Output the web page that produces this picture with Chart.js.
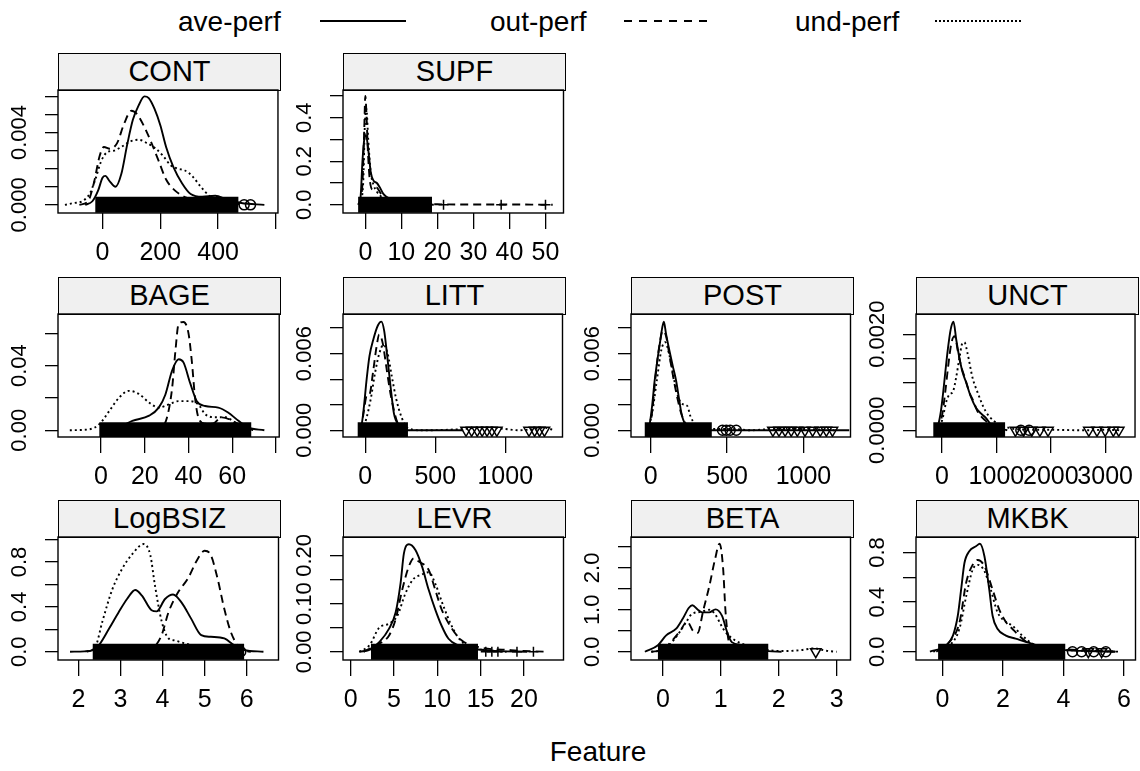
<!DOCTYPE html>
<html lang="en">
<head>
<meta charset="UTF-8">
<title>Feature densities by performance group</title>
<script src="https://cdn.jsdelivr.net/npm/chart.js@4.4.1/dist/chart.umd.min.js"></script>
<style>
  body { margin: 0; background: #fff; font-family: "Liberation Sans", Arial, sans-serif; color: #000; }
  #page { position: relative; width: 1140px; height: 771px; overflow: hidden; background: #fff; }
  .strip { position: absolute; box-sizing: border-box; border: 1px solid #000; background: #f0f0f0;
           text-align: center; font-size: 29px; line-height: 35px; }
  .panel { position: absolute; }
  .lgText { position: absolute; font-size: 28px; line-height: 30px; white-space: nowrap; }
  .lgLine { position: absolute; height: 2px; }
  #xtitle { position: absolute; left: 0; width: 1196px; top: 736px; text-align: center; font-size: 28px; }
</style>
</head>
<body>
<div id="page">
  <div class="lgText" style="left:178px; top:7px;">ave-perf</div>
  <div class="lgLine" style="left:320px; top:20px; width:86px; background:#000;"></div>
  <div class="lgText" style="left:490px; top:7px;">out-perf</div>
  <div class="lgLine" style="left:624px; top:20px; width:86px; background:repeating-linear-gradient(90deg,#000 0 8px,transparent 8px 15px);"></div>
  <div class="lgText" style="left:795px; top:7px;">und-perf</div>
  <div class="lgLine" style="left:935px; top:20px; width:88px; background:repeating-linear-gradient(90deg,#000 0 2px,transparent 2px 4px);"></div>
  <div id="xtitle">Feature</div>
</div>

<script>
// ---- density curves: [x, density] ----
const CONT_ave = [[-60,0],[-35,0.0002],[-15,0.0008],[0,0.0015],[10,0.0016],[25,0.0013],[45,0.0010],[65,0.0017],[85,0.0033],[105,0.0047],[125,0.0055],[145,0.0060],[160,0.0059],[180,0.0053],[200,0.0044],[220,0.0032],[245,0.0021],[275,0.0012],[305,0.0006],[345,0.00045],[390,0.0005],[430,0.0003],[480,0.0001],[560,0]];
const CONT_out = [[-80,0],[-50,0.0002],[-30,0.0012],[-10,0.0027],[5,0.0032],[25,0.0031],[50,0.0034],[75,0.0045],[100,0.0052],[120,0.0050],[145,0.0043],[170,0.0034],[195,0.0024],[220,0.0014],[250,0.0008],[290,0.0004],[340,0.0002],[380,0.0001],[420,0]];
const CONT_und = [[-130,0],[-100,0.0001],[-70,0.0002],[-45,0.0006],[-25,0.0014],[-5,0.0024],[15,0.0029],[40,0.0030],[65,0.0032],[95,0.0035],[125,0.0036],[155,0.0034],[185,0.0031],[210,0.0027],[235,0.0022],[260,0.0020],[285,0.0019],[310,0.0016],[340,0.0010],[370,0.0005],[400,0.0003],[440,0.0002],[480,0]];

const SUPF_ave = [[-2,0],[-1.3,0.04],[-0.8,0.2],[-0.3,0.3],[0.2,0.32],[0.7,0.27],[1.5,0.15],[2.3,0.11],[3.2,0.10],[4,0.08],[5,0.05],[6,0.035],[8,0.015],[10,0.008],[14,0.004],[19,0]];
const SUPF_out = [[-1.5,0],[-0.8,0.1],[-0.3,0.35],[0,0.5],[0.3,0.42],[0.7,0.25],[1.2,0.12],[2,0.07],[3,0.08],[4,0.06],[5,0.03],[7,0.01],[10,0.005],[20,0.002],[30,0.001],[40,0.001],[52,0]];
const SUPF_und = [[-1.5,0],[-0.6,0.1],[-0.1,0.38],[0.3,0.44],[0.8,0.3],[1.5,0.15],[2.3,0.09],[3.2,0.06],[5,0.03],[8,0.01],[12,0.004],[18,0]];

const BAGE_ave = [[0,0],[5,0.001],[10,0.003],[14.3,0.0058],[22,0.009],[26.4,0.014],[29.4,0.022],[32.5,0.037],[35.5,0.044],[37.7,0.042],[40.8,0.029],[43.8,0.018],[47.6,0.015],[53.6,0.014],[58.1,0.011],[62.7,0.006],[67.2,0.0017],[74.7,0]];
const BAGE_out = [[24,0],[28,0.002],[30.2,0.008],[32.5,0.026],[34,0.049],[35.5,0.066],[37.7,0.067],[40,0.06],[41.5,0.043],[43,0.02],[44.5,0.008],[47.5,0.004],[51,0.004],[55,0.008],[60,0.006],[65,0.002],[70,0]];
const BAGE_und = [[-14.3,0],[-5.3,0.0006],[-0.8,0.0037],[3.8,0.012],[8.3,0.0203],[12.8,0.0244],[17.4,0.0224],[21.9,0.0172],[26.4,0.014],[31,0.016],[35.5,0.018],[40,0.018],[44.5,0.016],[47.6,0.01],[52,0.008],[57,0.008],[62,0.004],[68,0]];

const LITT_ave = [[-45,0],[-25,0.0005],[-10,0.0018],[10,0.004],[30,0.0058],[60,0.0072],[90,0.0082],[115,0.0085],[135,0.0078],[155,0.006],[180,0.0035],[205,0.0013],[240,0.0004],[300,0],[700,0]];
const LITT_out = [[-30,0],[-10,0.0015],[10,0.0027],[30,0.0028],[55,0.0045],[80,0.0065],[100,0.0075],[125,0.0068],[150,0.005],[175,0.0032],[200,0.0018],[230,0.0006],[280,0]];
const LITT_und = [[-20,0],[10,0.001],[40,0.0025],[70,0.0045],[100,0.006],[130,0.0067],[160,0.006],[190,0.0042],[220,0.0025],[260,0.001],[300,0.0002],[400,0],[700,0.0001],[800,0.0002],[900,0.0002],[1000,0.0001],[1100,0],[1200,0.0001],[1280,0.0002],[1350,0]];

const POST_ave = [[-15,0],[-5,0.0006],[10,0.002],[26,0.0039],[45,0.0056],[60,0.0068],[75,0.008],[86,0.0085],[101,0.0075],[123,0.0062],[145,0.005],[166,0.0039],[185,0.0025],[200,0.0014],[220,0.0006],[250,0.0003],[300,0.0001],[400,0],[1300,0]];
const POST_out = [[-10,0],[10,0.0015],[30,0.004],[55,0.0065],[80,0.0078],[100,0.0074],[125,0.0057],[150,0.004],[175,0.0025],[200,0.0013],[225,0.0006],[260,0.0002],[330,0]];
const POST_und = [[-20,0],[10,0.0014],[40,0.0039],[70,0.0063],[95,0.0069],[120,0.006],[145,0.0045],[170,0.003],[195,0.0022],[220,0.002],[240,0.0019],[260,0.0011],[290,0.0005],[340,0.0002],[450,0.0001],[550,0.0001],[650,0],[800,0.0001],[1000,0.0001],[1200,0]];

const UNCT_ave = [[-120,0],[-73,0.0001],[-20,0.0004],[18,0.00075],[60,0.0012],[109,0.0017],[160,0.0021],[212,0.00226],[260,0.0019],[321,0.0015],[380,0.0012],[442,0.001],[530,0.0007],[624,0.00047],[715,0.00035],[806,0.00026],[900,0.00012],[988,0.00006],[1100,0]];
const UNCT_out = [[-100,0],[0,0.0003],[60,0.0008],[110,0.0013],[170,0.0018],[230,0.00196],[300,0.0016],[360,0.0013],[420,0.0011],[500,0.0008],[580,0.0006],[650,0.0004],[800,0.0002],[1000,0.00005],[1200,0]];
const UNCT_und = [[-100,0],[0,0.0002],[80,0.0006],[140,0.00075],[200,0.0008],[260,0.0011],[320,0.0015],[370,0.0018],[412,0.00183],[470,0.0016],[560,0.0011],[650,0.0008],[800,0.0004],[950,0.0002],[1100,0.0001],[1400,0.00002],[2000,0.00001],[2600,0],[3000,0.00001],[3300,0]];

const LBSZ_ave = [[1.8,0],[2.14,0.003],[2.34,0.015],[2.49,0.059],[2.73,0.206],[2.96,0.354],[3.16,0.472],[3.35,0.55],[3.51,0.50],[3.74,0.37],[3.86,0.36],[4.06,0.47],[4.25,0.51],[4.45,0.44],[4.68,0.295],[4.92,0.148],[5.15,0.133],[5.47,0.118],[5.70,0.059],[5.94,0.015],[6.4,0]];
const LBSZ_out = [[3.6,0],[3.8,0.04],[3.98,0.15],[4.14,0.35],[4.37,0.53],[4.6,0.65],[4.84,0.83],[5.0,0.90],[5.15,0.86],[5.31,0.65],[5.47,0.38],[5.62,0.18],[5.78,0.06],[5.94,0.01],[6.1,0]];
const LBSZ_und = [[2.2,0],[2.41,0.05],[2.57,0.27],[2.81,0.56],[3.04,0.74],[3.28,0.87],[3.55,0.96],[3.71,0.86],[3.82,0.59],[3.98,0.27],[4.14,0.12],[4.29,0.10],[4.53,0.074],[4.84,0.05],[5.2,0.03],[5.5,0.01],[5.8,0]];

const LEVR_ave = [[1,0],[2.3,0.005],[3.3,0.02],[4.44,0.048],[5.2,0.082],[5.77,0.143],[6.15,0.204],[6.72,0.223],[7.48,0.211],[8.24,0.177],[9.0,0.129],[9.76,0.088],[10.5,0.054],[11.3,0.027],[12.4,0.0136],[13.9,0.0068],[16.6,0.002],[20.4,0]];
const LEVR_out = [[1.5,0],[2.9,0.0136],[4.44,0.034],[5.2,0.068],[5.96,0.129],[6.72,0.177],[7.29,0.194],[7.86,0.187],[9.0,0.17],[9.76,0.129],[10.5,0.088],[11.7,0.048],[12.8,0.024],[14.7,0.01],[18.5,0.0034],[22.7,0]];
const LEVR_und = [[1,0],[2.2,0.014],[3.3,0.05],[4.4,0.058],[5.4,0.075],[6.3,0.12],[7.2,0.15],[8.2,0.16],[9.0,0.165],[9.8,0.14],[10.6,0.1],[11.5,0.06],[12.4,0.03],[13.5,0.012],[15,0.005],[17,0.001],[18,0]];

const BETA_ave = [[-0.31,0],[-0.085,0.156],[0.057,0.39],[0.23,0.55],[0.34,0.78],[0.45,1.05],[0.51,1.11],[0.6,1.01],[0.68,0.94],[0.8,0.94],[0.91,1.01],[1.02,0.86],[1.11,0.47],[1.19,0.23],[1.36,0.16],[1.59,0.08],[1.82,0.016],[2.05,0]];
const BETA_out = [[-0.2,0],[0,0.05],[0.15,0.25],[0.3,0.5],[0.42,0.72],[0.52,0.5],[0.6,0.45],[0.7,1.0],[0.8,1.55],[0.9,2.2],[0.98,2.58],[1.04,2.0],[1.08,1.0],[1.13,0.3],[1.2,0.1],[1.4,0.05],[1.6,0.02],[1.8,0]];
const BETA_und = [[-0.2,0],[0,0.05],[0.2,0.3],[0.4,0.7],[0.5,0.9],[0.65,0.95],[0.8,1.0],[0.9,0.9],[1.0,0.65],[1.08,0.47],[1.25,0.27],[1.53,0.12],[1.82,0.04],[2.1,0.016],[2.39,0.04],[2.61,0.08],[2.84,0.02],[3.0,0]];

const MKBK_ave = [[-0.41,0],[0.13,0.053],[0.35,0.13],[0.51,0.29],[0.62,0.50],[0.73,0.715],[0.89,0.81],[1.11,0.85],[1.24,0.87],[1.39,0.77],[1.55,0.50],[1.66,0.29],[1.82,0.185],[2.1,0.13],[2.42,0.106],[2.75,0.08],[3.3,0.04],[4.06,0.013],[4.82,0.005],[5.7,0]];
const MKBK_out = [[-0.2,0],[0.24,0.08],[0.57,0.24],[0.79,0.56],[1.0,0.70],[1.17,0.74],[1.39,0.69],[1.66,0.5],[1.88,0.34],[2.1,0.24],[2.31,0.185],[2.53,0.13],[2.86,0.066],[3.5,0.03],[4.6,0.013],[5.8,0]];
const MKBK_und = [[-0.3,0],[0.24,0.05],[0.57,0.19],[0.79,0.45],[1.0,0.66],[1.17,0.70],[1.39,0.65],[1.6,0.5],[1.82,0.32],[2.1,0.24],[2.31,0.21],[2.64,0.13],[2.97,0.066],[3.5,0.026],[4.6,0.008],[5.9,0]];

// ---- extent of the dense rug of observations at the foot of each panel ----
const CONT_rug = [-25, 470];
const SUPF_rug = [-2, 18.5];
const BAGE_rug = [-0.8, 68.7];
const LITT_rug = [-54, 305];
const POST_rug = [-39, 400];
const UNCT_rug = [-160, 1160];
const LBSZ_rug = [2.34, 5.94];
const LEVR_rug = [2.35, 14.7];
const BETA_rug = [-0.085, 1.82];
const MKBK_rug = [-0.14, 4.06];

// ---- isolated observations drawn with the group symbol ----
const CONT_aveObs = [490, 512];
const SUPF_outObs = [21.7, 37.7, 50];
const LITT_undObs = [720, 760, 800, 835, 870, 905, 940, 1170, 1210, 1245, 1280];
const POST_aveObs = [470, 495, 520, 560];
const POST_undObs = [800, 840, 880, 920, 960, 1010, 1060, 1110, 1150, 1190];
const UNCT_aveObs = [1450, 1600];
const UNCT_undObs = [1350, 1500, 1650, 1800, 1950, 2700, 2850, 3000, 3150, 3250];
const LBSZ_aveObs = [5.86];
const LEVR_outObs = [15.6, 16.3, 17.0, 19.2, 21.1];
const BETA_undObs = [2.64];
const MKBK_aveObs = [4.3, 4.6, 5.0, 5.4];
const MKBK_undObs = [4.82, 5.26];

// ---- axis ticks and labels ----
const CONT_xTicks = [0, 200, 400, 600];      const CONT_xLab = ['0', '200', '400', ''];
const CONT_yTicks = [0, 0.001, 0.002, 0.003, 0.004, 0.005, 0.006];
const CONT_yLab = ['0.000', '', '', '', '0.004', '', ''];
const SUPF_xTicks = [0, 10, 20, 30, 40, 50];  const SUPF_xLab = ['0', '10', '20', '30', '40', '50'];
const SUPF_yTicks = [0, 0.1, 0.2, 0.3, 0.4, 0.5]; const SUPF_yLab = ['0.0', '', '0.2', '', '0.4', ''];
const BAGE_xTicks = [0, 20, 40, 60, 80];      const BAGE_xLab = ['0', '20', '40', '60', ''];
const BAGE_yTicks = [0, 0.02, 0.04, 0.06];    const BAGE_yLab = ['0.00', '', '0.04', ''];
const LITT_xTicks = [0, 500, 1000];           const LITT_xLab = ['0', '500', '1000'];
const LITT_yTicks = [0, 0.002, 0.004, 0.006, 0.008]; const LITT_yLab = ['0.000', '', '', '0.006', ''];
const POST_xTicks = [0, 500, 1000];           const POST_xLab = ['0', '500', '1000'];
const POST_yTicks = [0, 0.002, 0.004, 0.006, 0.008]; const POST_yLab = ['0.000', '', '', '0.006', ''];
const UNCT_xTicks = [0, 1000, 2000, 3000];    const UNCT_xLab = ['0', '1000', '2000', '3000'];
const UNCT_yTicks = [0, 0.0005, 0.001, 0.0015, 0.002]; const UNCT_yLab = ['0.0000', '', '', '', '0.0020'];
const LBSZ_xTicks = [2, 3, 4, 5, 6];          const LBSZ_xLab = ['2', '3', '4', '5', '6'];
const LBSZ_yTicks = [0, 0.2, 0.4, 0.6, 0.8, 1.0]; const LBSZ_yLab = ['0.0', '', '0.4', '', '0.8', ''];
const LEVR_xTicks = [0, 5, 10, 15, 20];       const LEVR_xLab = ['0', '5', '10', '15', '20'];
const LEVR_yTicks = [0, 0.05, 0.10, 0.15, 0.20]; const LEVR_yLab = ['0.00', '', '0.10', '', '0.20'];
const BETA_xTicks = [0, 1, 2, 3];             const BETA_xLab = ['0', '1', '2', '3'];
const BETA_yTicks = [0, 0.5, 1.0, 1.5, 2.0, 2.5]; const BETA_yLab = ['0.0', '', '1.0', '', '2.0', ''];
const MKBK_xTicks = [0, 2, 4, 6];             const MKBK_xLab = ['0', '2', '4', '6'];
const MKBK_yTicks = [0, 0.2, 0.4, 0.6, 0.8];  const MKBK_yLab = ['0.0', '', '0.4', '', '0.8'];

// ---- layout ----
const COL_LEFT = [58, 343, 631, 916];
const ROW_TOP = [53, 277, 500];
const STRIP_H = 37, PLOT_W = 223, PLOT_H = 123;
const AXIS_W = 58, XAXIS_H = 60, PAD_T = 40, PAD_R = 4;
const YLAB_CENTER = 38;   // distance of rotated y labels from the panel's left edge

const panels = [
  { name: 'CONT', col: 0, row: 0, ave: CONT_ave, out: CONT_out, und: CONT_und, rug: CONT_rug,
    obs: { ave: CONT_aveObs }, x: [-154, 607], y: [-0.00045, 0.00635],
    xt: CONT_xTicks, xl: CONT_xLab, yt: CONT_yTicks, yl: CONT_yLab },
  { name: 'SUPF', col: 1, row: 0, ave: SUPF_ave, out: SUPF_out, und: SUPF_und, rug: SUPF_rug,
    obs: { out: SUPF_outObs }, x: [-6.2, 55], y: [-0.038, 0.5275],
    xt: SUPF_xTicks, xl: SUPF_xLab, yt: SUPF_yTicks, yl: SUPF_yLab },
  { name: 'BAGE', col: 0, row: 1, ave: BAGE_ave, out: BAGE_out, und: BAGE_und, rug: BAGE_rug,
    obs: {}, x: [-19.7, 81.5], y: [-0.0042, 0.072],
    xt: BAGE_xTicks, xl: BAGE_xLab, yt: BAGE_yTicks, yl: BAGE_yLab },
  { name: 'LITT', col: 1, row: 1, ave: LITT_ave, out: LITT_out, und: LITT_und, rug: LITT_rug,
    obs: { und: LITT_undObs }, x: [-159, 1409], y: [-0.000525, 0.0091],
    xt: LITT_xTicks, xl: LITT_xLab, yt: LITT_yTicks, yl: LITT_yLab },
  { name: 'POST', col: 2, row: 1, ave: POST_ave, out: POST_out, und: POST_und, rug: POST_rug,
    obs: { ave: POST_aveObs, und: POST_undObs }, x: [-129, 1308], y: [-0.000525, 0.0091],
    xt: POST_xTicks, xl: POST_xLab, yt: POST_yTicks, yl: POST_yLab },
  { name: 'UNCT', col: 3, row: 1, ave: UNCT_ave, out: UNCT_out, und: UNCT_und, rug: UNCT_rug,
    obs: { ave: UNCT_aveObs, und: UNCT_undObs }, x: [-478, 3549], y: [-0.00014, 0.00242],
    xt: UNCT_xTicks, xl: UNCT_xLab, yt: UNCT_yTicks, yl: UNCT_yLab },
  { name: 'LogBSIZ', col: 0, row: 2, ave: LBSZ_ave, out: LBSZ_out, und: LBSZ_und, rug: LBSZ_rug,
    obs: { ave: LBSZ_aveObs }, x: [1.514, 6.758], y: [-0.074, 1.023],
    xt: LBSZ_xTicks, xl: LBSZ_xLab, yt: LBSZ_yTicks, yl: LBSZ_yLab },
  { name: 'LEVR', col: 1, row: 2, ave: LEVR_ave, out: LEVR_out, und: LEVR_und, rug: LEVR_rug,
    obs: { out: LEVR_outObs }, x: [-0.88, 24.57], y: [-0.017, 0.238],
    xt: LEVR_xTicks, xl: LEVR_xLab, yt: LEVR_yTicks, yl: LEVR_yLab },
  { name: 'BETA', col: 2, row: 2, ave: BETA_ave, out: BETA_out, und: BETA_und, rug: BETA_rug,
    obs: { und: BETA_undObs }, x: [-0.55, 3.24], y: [-0.197, 2.737],
    xt: BETA_xTicks, xl: BETA_xLab, yt: BETA_yTicks, yl: BETA_yLab },
  { name: 'MKBK', col: 3, row: 2, ave: MKBK_ave, out: MKBK_out, und: MKBK_und, rug: MKBK_rug,
    obs: { ave: MKBK_aveObs, und: MKBK_undObs }, x: [-0.87, 6.38], y: [-0.067, 0.925],
    xt: MKBK_xTicks, xl: MKBK_xLab, yt: MKBK_yTicks, yl: MKBK_yLab }
];

const FONT = '"Liberation Sans", Arial, sans-serif';
const X_FONT = 25, Y_FONT = 22;
const DASH = { ave: [], out: [8, 5], und: [2, 3] };
const SYMBOL = { ave: 'circle', out: 'cross', und: 'triangle' };

Chart.defaults.font.family = FONT;
Chart.defaults.color = '#000';

// the lattice-style panel frame
const boxPlugin = {
  id: 'panelBox',
  afterDraw(chart) {
    const { ctx, chartArea: a } = chart;
    ctx.save();
    ctx.strokeStyle = '#000';
    ctx.lineWidth = 1.4;
    ctx.strokeRect(a.left, a.top, a.right - a.left, a.bottom - a.top);
    ctx.restore();
  }
};

const measure = document.createElement('canvas').getContext('2d');
measure.font = Y_FONT + 'px ' + FONT;

function curve(points, group) {
  return {
    type: 'line',
    label: group,
    data: points.map(p => ({ x: p[0], y: p[1] })),
    borderColor: '#000',
    borderWidth: 1.9,
    borderDash: DASH[group],
    pointRadius: 0,
    fill: false,
    cubicInterpolationMode: 'monotone',
    clip: 0,
    order: 2
  };
}

function observations(xs, group) {
  return {
    type: 'scatter',
    label: group + ' obs',
    data: xs.map(x => ({ x: x, y: 0 })),
    pointStyle: SYMBOL[group],
    rotation: group === 'und' ? 180 : 0,
    pointRadius: group === 'und' ? 6 : 5,
    borderColor: '#000',
    borderWidth: 1.5,
    backgroundColor: 'rgba(0,0,0,0)',
    clip: 0,
    order: 1
  };
}

function makePanel(p) {
  const page = document.getElementById('page');
  const left = COL_LEFT[p.col];
  const stripTop = ROW_TOP[p.row];
  const plotTop = stripTop + STRIP_H;

  const strip = document.createElement('div');
  strip.className = 'strip';
  strip.style.left = left + 'px';
  strip.style.top = stripTop + 'px';
  strip.style.width = PLOT_W + 'px';
  strip.style.height = (STRIP_H + 1) + 'px';
  strip.textContent = p.name;
  page.appendChild(strip);

  const W = AXIS_W + PLOT_W + PAD_R;
  const H = PAD_T + PLOT_H + XAXIS_H;
  const canvas = document.createElement('canvas');
  canvas.className = 'panel';
  canvas.width = W;
  canvas.height = H;
  canvas.style.left = (left - AXIS_W) + 'px';
  canvas.style.top = (plotTop - PAD_T) + 'px';
  page.appendChild(canvas);

  const widest = Math.max(...p.yl.map(s => measure.measureText(s).width));
  const yPad = YLAB_CENTER - 13 - widest / 2;

  const datasets = [
    {
      type: 'line', label: 'rug',
      data: [{ x: p.rug[0], y: 0 }, { x: p.rug[1], y: 0 }],
      borderColor: '#000', borderWidth: 16, borderCapStyle: 'butt',
      pointRadius: 0, clip: 0, order: 0
    },
    curve(p.ave, 'ave'),
    curve(p.out, 'out'),
    curve(p.und, 'und')
  ];
  Object.keys(p.obs).forEach(g => datasets.push(observations(p.obs[g], g)));

  new Chart(canvas, {
    data: { datasets },
    options: {
      responsive: false,
      animation: false,
      events: [],
      layout: { padding: { top: PAD_T, right: PAD_R, left: 0, bottom: 0 } },
      plugins: { legend: { display: false }, tooltip: { enabled: false } },
      scales: {
        x: {
          type: 'linear', position: 'bottom', min: p.x[0], max: p.x[1],
          afterBuildTicks: s => { s.ticks = p.xt.map(v => ({ value: v })); },
          afterFit: s => { s.height = XAXIS_H; },
          grid: { drawOnChartArea: false, drawTicks: true, tickLength: 16, color: '#000', tickColor: '#000', lineWidth: 1.3 },
          border: { display: false },
          ticks: {
            autoSkip: false, maxRotation: 0, minRotation: 0, padding: 9,
            font: { size: X_FONT }, color: '#000',
            callback: (v, i) => p.xl[i]
          }
        },
        y: {
          type: 'linear', position: 'left', min: p.y[0], max: p.y[1],
          afterBuildTicks: s => { s.ticks = p.yt.map(v => ({ value: v })); },
          afterFit: s => { s.width = AXIS_W; },
          grid: { drawOnChartArea: false, drawTicks: true, tickLength: 13, color: '#000', tickColor: '#000', lineWidth: 1.3 },
          border: { display: false },
          ticks: {
            autoSkip: false, minRotation: 90, maxRotation: 90, crossAlign: 'center',
            padding: yPad, font: { size: Y_FONT }, color: '#000',
            callback: (v, i) => p.yl[i]
          }
        }
      }
    },
    plugins: [boxPlugin]
  });
}

panels.forEach(makePanel);
</script>
</body>
</html>
